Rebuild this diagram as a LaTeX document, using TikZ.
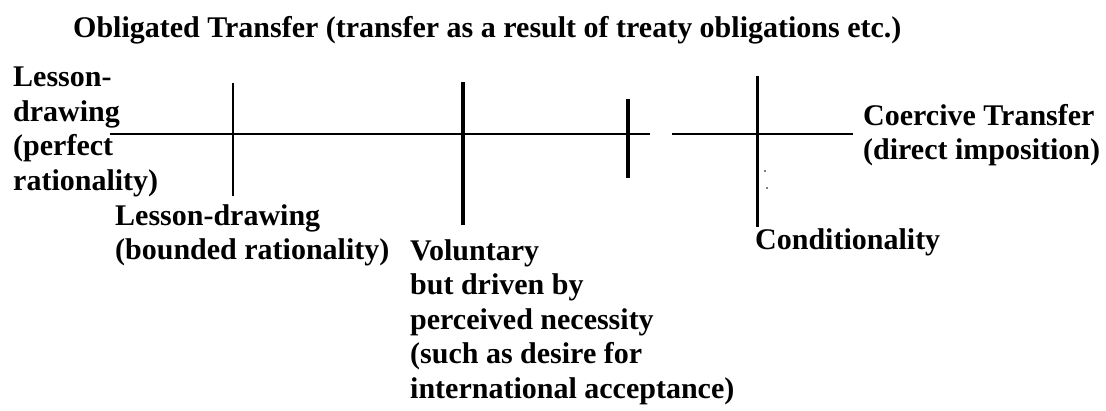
\documentclass[tikz,border=0pt]{standalone}
\usepackage{fontspec}
\setmainfont{Liberation Serif}
\begin{document}
\begin{tikzpicture}[x=1pt,y=-1pt,
  lbl/.style={anchor=base west,inner sep=0pt,align=left,
    font=\fontsize{30}{34.5}\selectfont\bfseries},
  axis/.style={line width=2.8pt},
  tick/.style={line width=#1},
  tick/.default=3pt]
\useasboundingbox (0,0) rectangle (1106,410);
% axis segments
\coordinate (a1) at (110,134);
\coordinate (a2) at (650,134);
\coordinate (b1) at (672,134);
\coordinate (b2) at (853,134);
\draw[axis] (a1) -- (a2);
\draw[axis] (b1) -- (b2);
% ticks
\coordinate (t1a) at (233,83);  \coordinate (t1b) at (233,196);
\coordinate (t2a) at (463,82);  \coordinate (t2b) at (463,225);
\coordinate (t3a) at (628,99);  \coordinate (t3b) at (628,178);
\coordinate (t4a) at (757,76);  \coordinate (t4b) at (757,227);
\draw[tick=2.8pt] (t1a) -- (t1b);
\draw[tick=4pt] (t2a) -- (t2b);
\draw[tick=4pt] (t3a) -- (t3b);
\draw[tick=3pt] (t4a) -- (t4b);
% stray dots
\coordinate (d1) at (765,171);
\coordinate (d2) at (767,188);
\fill (d1) circle (0.9);
\fill (d2) circle (0.9);
% labels (multi-line nodes are anchored at the baseline of their last line)
\node[lbl] (title) at (73,37) {Obligated Transfer (transfer as a result of treaty obligations etc.)};
\node[lbl] (perfect) at (13,190) {Lesson-\\drawing\\(perfect\\rationality)};
\node[lbl] (bounded) at (115,259.5) {Lesson-drawing\\(bounded rationality)};
\node[lbl] (voluntary) at (410,398) {Voluntary\\but driven by\\perceived necessity\\(such as desire for\\international acceptance)};
\node[lbl] (cond) at (755,249) {Conditionality};
\node[lbl] (coercive) at (863,159.5) {Coercive Transfer\\(direct imposition)};
\end{tikzpicture}
\end{document}
